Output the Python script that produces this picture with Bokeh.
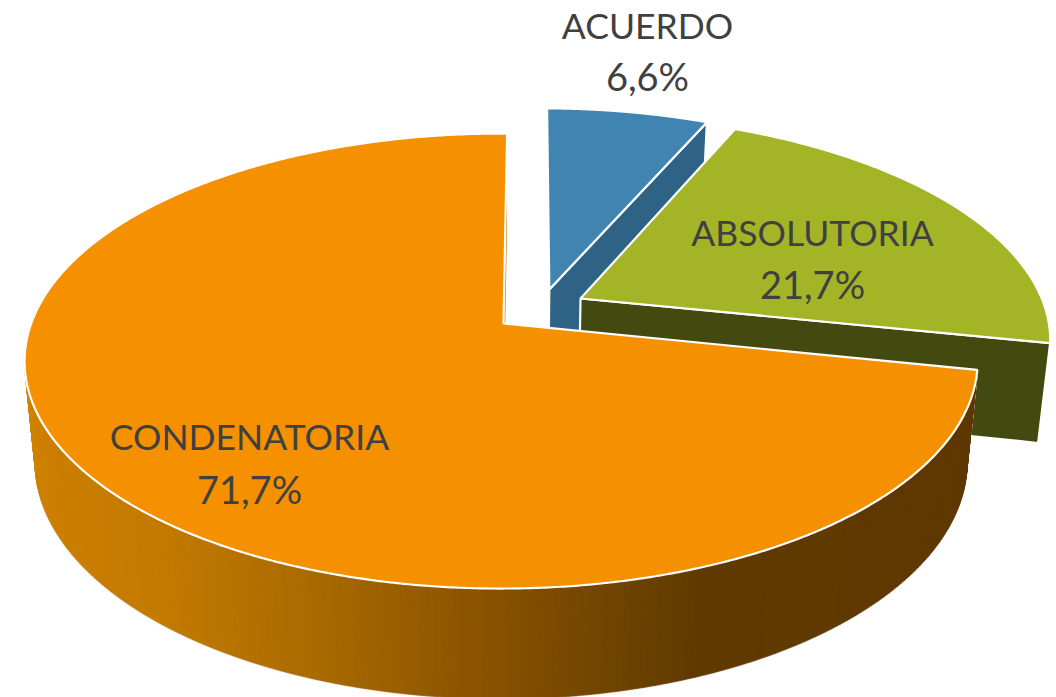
import numpy as np
from bokeh.plotting import figure
from bokeh.models import Range1d
from bokeh.core.properties import value
from bokeh.embed import file_html
from bokeh.resources import INLINE

# data, clockwise from the top of the pie
categories = ["ACUERDO", "ABSOLUTORIA", "CONDENATORIA"]
shares = [6.6, 21.7, 71.7]

# style
top_colors = ["#4085B1", "#A3B526", "#F59100"]
side_colors = ["#2E6385", "#44490F", "#5F3800"]
text_color = "#404040"
grad_x = [25, 170, 300, 500, 700, 985]
grad_r = [0xD0, 0xC2, 0xAC, 0x86, 0x5F, 0x5F]
grad_g = [0x82, 0x7A, 0x6C, 0x51, 0x3A, 0x38]
grad_b = [0x00, 0x00, 0x00, 0x00, 0x00, 0x00]

# projection of the pie
CX, CY = 503.0, 323.0
A, B, K = 470.0, 221.3, -0.165
edge_tweak_deg = [0.6, 0.4, -0.2, 0.8]
DEPTH, DEPTH_Q, SHRINK = 99.0, -0.07, 0.978
offsets = [(0.100, -0.158), (0.167, -0.115), (0.0, 0.0)]
arc_shift = [0.0, 0.0, -0.005]

# label placement
label_x = [647, 812, 249]
name_y = [25, 232, 436]
pct_y = [75, 283, 488]
FONT = "Lato"
NAME_SIZE = "35.5px"
PCT_SIZE = "38px"


def project(u, v, lower=False):
    den = 1 + K * v
    x = A * u / den
    y = B * v / den
    if lower:
        return CX + x * SHRINK, CY + y + DEPTH * (1 + DEPTH_Q * v) / den
    return CX + x, CY + y


def arc_points(off, shift, a0, a1, n=240):
    t = np.radians(np.linspace(a0, a1, n))
    return off[0] + shift + np.sin(t), off[1] - np.cos(t)


p = figure(width=1056, height=697, x_range=Range1d(0, 1056), y_range=Range1d(697, 0),
           x_axis_type=None, y_axis_type=None, toolbar_location=None,
           output_backend="svg", min_border=0, outline_line_color=None,
           background_fill_color="white", border_fill_color="white")
p.grid.visible = False

fr = np.array(shares) / sum(shares) * 360.0
edges = np.array(edge_tweak_deg) + np.concatenate([[0], np.cumsum(fr)])
LW = 2.2


def quad(u0, v0, u1, v1):
    x0, y0 = project(u0, v0)
    x1, y1 = project(u1, v1)
    x2, y2 = project(u1, v1, True)
    x3, y3 = project(u0, v0, True)
    return [x0, x1, x2, x3], [y0, y1, y2, y3]


for i in range(3):
    off = offsets[i]
    a0, a1 = edges[i], edges[i + 1]
    us, vs = arc_points(off, arc_shift[i], a0, a1, 700 if i == 2 else 240)
    if i < 2:
        tx, ty = project(us, vs)
        bx, by = project(us, vs, True)
        p.patch(np.r_[tx, bx[::-1]], np.r_[ty, by[::-1]], fill_color=side_colors[i],
                line_color="white", line_width=LW)
        qx, qy = quad(off[0], off[1], us[-1], vs[-1])
        p.patch(qx, qy, fill_color=side_colors[i], line_color="white", line_width=LW)
    else:
        keep = vs > -0.1
        bx, by = project(us[keep], vs[keep], True)
        tx, ty = project(us[keep], vs[keep])
        p.patch(np.r_[tx, bx[::-1]], np.r_[ty, by[::-1]], fill_color="#9a6000",
                line_color="#dddddd", line_width=2.0)
        xs, ys, cols = [], [], []
        for j in range(len(tx) - 1):
            qx = [tx[j], tx[j + 1], bx[j + 1], bx[j]]
            qy = [ty[j], ty[j + 1], by[j + 1], by[j]]
            m = (tx[j] + tx[j + 1]) / 2
            c = "#%02x%02x%02x" % (int(np.interp(m, grad_x, grad_r)),
                                   int(np.interp(m, grad_x, grad_g)),
                                   int(np.interp(m, grad_x, grad_b)))
            xs.append(qx); ys.append(qy); cols.append(c)
        p.patches(xs, ys, fill_color=cols, line_color=cols, line_width=0.7)
        # cut face beside the gap
        qx, qy = quad(off[0], off[1], us[-1], vs[-1])
        p.patch(qx, qy, fill_color="#C07A00", line_color=None)
    tx, ty = project(np.r_[off[0], us], np.r_[off[1], vs])
    p.patch(tx, ty, fill_color=top_colors[i], line_color="white", line_width=LW)

pct_text = [f"{s:.1f}".replace(".", ",") + "%" for s in shares]
p.text(label_x, name_y, text=categories, text_font=value(FONT), text_font_size=value(NAME_SIZE),
       text_color=text_color, text_align="center", text_baseline="middle")
p.text(label_x, pct_y, text=pct_text, text_font=value(FONT), text_font_size=value(PCT_SIZE),
       text_color=text_color, text_align="center", text_baseline="middle")

open("out.html", "w").write(file_html(p, INLINE))
